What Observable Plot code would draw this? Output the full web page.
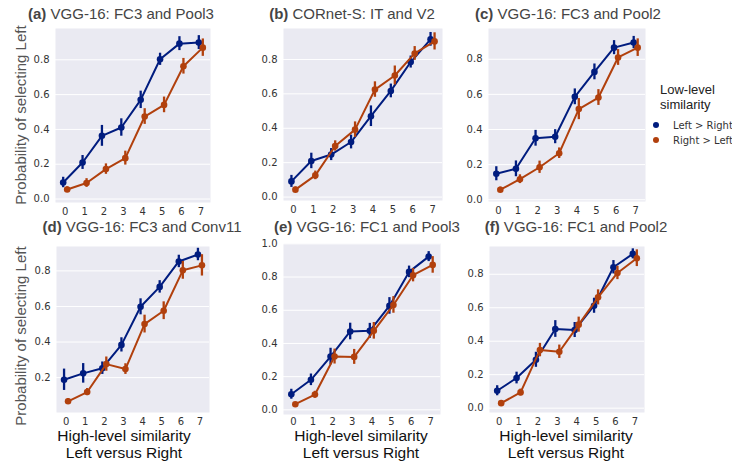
<!DOCTYPE html>
<html><head><meta charset="utf-8">
<script src="https://cdn.jsdelivr.net/npm/d3@7"></script>
<script src="https://cdn.jsdelivr.net/npm/@observablehq/plot@0.6"></script>
<style>
html,body{margin:0;padding:0;background:#fff;}
#wrap{position:relative;width:732px;height:464px;overflow:hidden;}
#wrap > svg{position:absolute;}
</style></head><body><div id="wrap"></div>
<script>
// ---- data ----
const highSim = [0,1,2,3,4,5,6,7];
const seriesNames = ["Left > Right", "Right > Left"];
const seriesColors = ["#001c7f", "#b1400d"];
const panelTitles = ["VGG-16: FC3 and Pool3","CORnet-S: IT and V2","VGG-16: FC3 and Pool2","VGG-16: FC3 and Conv11","VGG-16: FC1 and Pool3","VGG-16: FC1 and Pool2"];
const panelLetters = ["(a)","(b)","(c)","(d)","(e)","(f)"];

const aLR = [0.095,0.21,0.363,0.411,0.57,0.803,0.893,0.899];
const aLRerr = [0.03,0.04,0.06,0.05,0.05,0.035,0.04,0.04];
const aRL = [0.055,0.092,0.172,0.235,0.474,0.541,0.763,0.87];
const aRLerr = [0.015,0.025,0.03,0.04,0.045,0.045,0.045,0.05];

const bLR = [0.091,0.21,0.247,0.32,0.47,0.617,0.785,0.917];
const bLRerr = [0.035,0.045,0.035,0.04,0.06,0.04,0.035,0.04];
const bRL = [0.043,0.126,0.297,0.392,0.625,0.707,0.835,0.905];
const bRLerr = [0.015,0.025,0.03,0.045,0.045,0.055,0.04,0.05];

const cLR = [0.148,0.176,0.35,0.359,0.586,0.728,0.866,0.895];
const cLRerr = [0.04,0.045,0.045,0.04,0.045,0.045,0.04,0.035];
const cRL = [0.057,0.117,0.185,0.265,0.516,0.582,0.81,0.866];
const cRLerr = [0.015,0.025,0.035,0.03,0.06,0.045,0.045,0.05];

const dLR = [0.188,0.224,0.253,0.384,0.598,0.71,0.853,0.892];
const dLRerr = [0.06,0.055,0.035,0.04,0.045,0.035,0.035,0.035];
const dRL = [0.067,0.119,0.276,0.248,0.501,0.576,0.803,0.831];
const dRLerr = [0.015,0.02,0.04,0.03,0.05,0.05,0.05,0.06];

const eLR = [0.094,0.181,0.321,0.472,0.476,0.626,0.831,0.923];
const eLRerr = [0.03,0.035,0.05,0.05,0.045,0.05,0.035,0.03];
const eRL = [0.034,0.092,0.321,0.319,0.476,0.632,0.811,0.873];
const eRLerr = [0.01,0.02,0.045,0.045,0.05,0.05,0.04,0.05];

const fLR = [0.104,0.18,0.289,0.473,0.467,0.612,0.842,0.922];
const fLRerr = [0.03,0.035,0.045,0.05,0.045,0.045,0.04,0.03];
const fRL = [0.03,0.094,0.347,0.337,0.499,0.662,0.808,0.896];
const fRLerr = [0.01,0.02,0.04,0.04,0.045,0.045,0.04,0.05];

const yTicksA = [0,0.2,0.4,0.6,0.8];
const yTicksD = [0.2,0.4,0.6,0.8];
const yTicksE = [0,0.2,0.4,0.6,0.8,1.0];

const panelValues = [
  [aLR,aLRerr,aRL,aRLerr],[bLR,bLRerr,bRL,bRLerr],[cLR,cLRerr,cRL,cRLerr],
  [dLR,dLRerr,dRL,dRLerr],[eLR,eLRerr,eRL,eRLerr],[fLR,fLRerr,fRL,fRLerr]
];
const panelYTicks = [yTicksA,yTicksA,yTicksA,yTicksD,yTicksE,yTicksA];

// ---- layout ----
const layout = [
  {left:55, top:28, w:155, h:174, ydom:[-0.02,0.98], title:[121,19], tp:5},
  {left:283,top:28, w:159, h:172, ydom:[-0.02,0.98], title:[352,19], tp:5},
  {left:488,top:28, w:157, h:173, ydom:[-0.01,0.975], title:[568,19], tp:5},
  {left:56, top:246,w:153, h:166, ydom:[0.004,0.937], title:[142,232], tp:5},
  {left:283,top:243,w:157, h:171, ydom:[-0.028,1.002], title:[367,232], tp:3},
  {left:489,top:246,w:155, h:166, ydom:[-0.026,0.966], title:[576,232], tp:5}
];
const ML=45, MT=6, MR=6, MB=22;
const wrap = document.getElementById("wrap");

layout.forEach((L, i) => {
  const [lr, lrE, rl, rlE] = panelValues[i];
  const rows = [];
  highSim.forEach((x, k) => {
    rows.push({x, s: 0, y: lr[k], lo: lr[k]-lrE[k], hi: lr[k]+lrE[k]});
    rows.push({x, s: 1, y: rl[k], lo: rl[k]-rlE[k], hi: rl[k]+rlE[k]});
  });
  const marks = [
    Plot.frame({fill:"#EAEAF2", stroke:"none"}),
    Plot.gridY(panelYTicks[i], {stroke:"#fff", strokeOpacity:1, strokeWidth:1}),
    Plot.axisX(highSim, {tickSize:0, tickPadding:L.tp, fill:"#333", fontSize:10, label:null, tickFormat:d=>String(d)}),
    Plot.axisY(panelYTicks[i], {tickSize:0, tickPadding:6, fill:"#333", fontSize:10, label:null, tickFormat:d=>d.toFixed(1)})
  ];
  [0,1].forEach(s => {
    const d = rows.filter(r => r.s === s);
    const dx = s === 0 ? -2 : 2;
    const c = seriesColors[s];
    marks.push(Plot.line(d, {x:"x", y:"y", stroke:c, strokeWidth:2, dx}));
    marks.push(Plot.ruleX(d, {x:"x", y1:"lo", y2:"hi", stroke:c, strokeWidth:2.3, dx}));
    marks.push(Plot.dot(d, {x:"x", y:"y", fill:c, r:3.3, stroke:"none", dx}));
  });
  const svg = Plot.plot({
    width: L.w + ML + MR, height: L.h + MT + MB,
    marginLeft: ML, marginRight: MR, marginTop: MT, marginBottom: MB,
    style: {background:"transparent", fontFamily:"'DejaVu Sans', sans-serif", fontSize:"10px", color:"#333"},
    x: {type:"linear", domain:[-0.5,7.5], axis:null},
    y: {domain:L.ydom, axis:null},
    marks
  });
  svg.style.left = (L.left - ML) + "px";
  svg.style.top = (L.top - MT) + "px";
  wrap.appendChild(svg);
});

// ---- text overlay ----
const ov = d3.select(wrap).append("svg").attr("width",732).attr("height",464)
  .style("left","0px").style("top","0px").style("font-family","'Liberation Sans', Arial, sans-serif");

layout.forEach((L, i) => {
  const t = ov.append("text").attr("x", L.title[0]).attr("y", L.title[1])
    .attr("text-anchor","middle").attr("font-size",15).attr("fill","#444");
  t.append("tspan").attr("font-weight","bold").text(panelLetters[i]);
  t.append("tspan").text(" " + panelTitles[i]);
});

[[20,115],[20,336]].forEach(([x,y]) => {
  ov.append("text").attr("transform",`translate(${x},${y}) rotate(-90)`)
    .attr("text-anchor","middle").attr("dominant-baseline","central")
    .attr("font-size",15).attr("fill","#555").text("Probability of selecting Left");
});

[124,361,566].forEach(x => {
  ov.append("text").attr("x",x).attr("y",441).attr("text-anchor","middle")
    .attr("font-size",15.5).attr("fill","#111").text("High-level similarity");
  ov.append("text").attr("x",x).attr("y",458).attr("text-anchor","middle")
    .attr("font-size",15.5).attr("fill","#111").text("Left versus Right");
});

// legend
ov.append("text").attr("x",660).attr("y",94).attr("font-size",13).attr("fill","#222").text("Low-level");
ov.append("text").attr("x",660).attr("y",109).attr("font-size",13).attr("fill","#222").text("similarity");
seriesNames.forEach((name, s) => {
  const y = 125 + s*15;
  ov.append("circle").attr("cx",656).attr("cy",y).attr("r",3).attr("fill",seriesColors[s]);
  ov.append("text").attr("x",673).attr("y",y).attr("dominant-baseline","central")
    .attr("font-family","'DejaVu Sans', sans-serif").attr("font-size",10).attr("fill","#333").text(name);
});
</script></body></html>
